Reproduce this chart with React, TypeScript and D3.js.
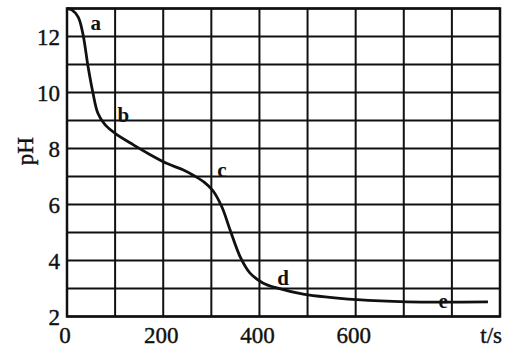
import React, { useEffect, useRef } from 'react';
import * as d3 from 'd3';

// titration curve: time (s) and pH
const times = [0, 10, 23, 33, 44, 54, 64, 79, 100, 138, 173, 207, 242, 265, 285, 303, 322, 339, 360, 380, 407, 436, 491, 603, 707, 875];
const phValues = [13, 12.95, 12.7, 12.1, 10.9, 9.98, 9.27, 8.85, 8.54, 8.13, 7.78, 7.47, 7.23, 7.02, 6.8, 6.5, 5.91, 5.09, 4.13, 3.56, 3.2, 3.02, 2.8, 2.6, 2.52, 2.52];

const pointLabels = ['a', 'b', 'c', 'd', 'e'];
const labelT = [60, 117, 322, 449, 782];
const labelPH = [12.5, 9.2, 7.25, 3.4, 2.55];

const xTicks = [0, 200, 400, 600];
const yTicks = [2, 4, 6, 8, 10, 12];

const App = () => {
  const ref = useRef<SVGSVGElement>(null);

  useEffect(() => {
    const width = 515;
    const height = 351;
    const margin = { top: 8.5, right: 15, bottom: 34.5, left: 67 };
    const w = width - margin.left - margin.right;
    const h = height - margin.top - margin.bottom;
    const font = '"Liberation Serif", "DejaVu Serif", serif';

    const root = d3.select(ref.current);
    root.selectAll('*').remove();
    root.attr('width', width).attr('height', height);

    const svg = root.append('g').attr('transform', `translate(${margin.left},${margin.top})`);

    const x = d3.scaleLinear().domain([0, 900]).range([0, w]);
    const y = d3.scaleLinear().domain([2, 13]).range([h, 0]);

    // grid
    svg.selectAll('.vgrid')
      .data(d3.range(0, 901, 100))
      .enter().append('line')
      .attr('x1', d => x(d)).attr('x2', d => x(d))
      .attr('y1', 0).attr('y2', h)
      .attr('stroke', '#111').attr('stroke-width', 2);

    svg.selectAll('.hgrid')
      .data(d3.range(2, 14, 1))
      .enter().append('line')
      .attr('x1', 0).attr('x2', w)
      .attr('y1', d => y(d)).attr('y2', d => y(d))
      .attr('stroke', '#111').attr('stroke-width', 2);

    svg.append('rect')
      .attr('width', w).attr('height', h)
      .attr('fill', 'none').attr('stroke', '#111').attr('stroke-width', 2.5);

    // tick labels
    svg.selectAll('.xlab')
      .data(xTicks)
      .enter().append('text')
      .attr('x', d => x(d) - 2)
      .attr('y', h + 26)
      .attr('text-anchor', 'middle')
      .attr('font-family', font).attr('font-size', 23)
      .attr('fill', '#111').attr('stroke', '#111').attr('stroke-width', 0.4)
      .text(d => d);

    svg.selectAll('.ylab')
      .data(yTicks)
      .enter().append('text')
      .attr('x', -7)
      .attr('y', d => y(d))
      .attr('dy', '0.35em')
      .attr('text-anchor', 'end')
      .attr('font-family', font).attr('font-size', 23)
      .attr('fill', '#111').attr('stroke', '#111').attr('stroke-width', 0.4)
      .text(d => d);

    svg.append('text')
      .attr('x', w + 2)
      .attr('y', h + 26)
      .attr('text-anchor', 'end')
      .attr('font-family', font).attr('font-size', 23)
      .attr('fill', '#111').attr('stroke', '#111').attr('stroke-width', 0.4)
      .text('t/s');

    svg.append('text')
      .attr('transform', `translate(${-34},${y(7.9)}) rotate(-90)`)
      .attr('text-anchor', 'middle')
      .attr('font-family', font).attr('font-size', 23)
      .attr('fill', '#111').attr('stroke', '#111').attr('stroke-width', 0.4)
      .text('pH');

    // curve
    const pts = times.map((t, i) => [t, phValues[i]] as [number, number]);
    const line = d3.line<[number, number]>()
      .x(d => x(d[0]))
      .y(d => y(d[1]))
      .curve(d3.curveCatmullRom.alpha(0.5));

    svg.append('path')
      .attr('d', line(pts))
      .attr('fill', 'none')
      .attr('stroke', '#111')
      .attr('stroke-width', 2.8)
      .attr('stroke-linejoin', 'round');

    // point letters
    svg.selectAll('.pl')
      .data(pointLabels)
      .enter().append('text')
      .attr('x', (d, i) => x(labelT[i]))
      .attr('y', (d, i) => y(labelPH[i]))
      .attr('dy', '0.35em')
      .attr('text-anchor', 'middle')
      .attr('font-family', font).attr('font-size', 21)
      .attr('font-weight', 'bold')
      .attr('fill', '#111')
      .text(d => d);
  }, []);

  return <svg ref={ref} style={{ position: 'absolute', left: 0, top: 0 }}></svg>;
};

export default App;
